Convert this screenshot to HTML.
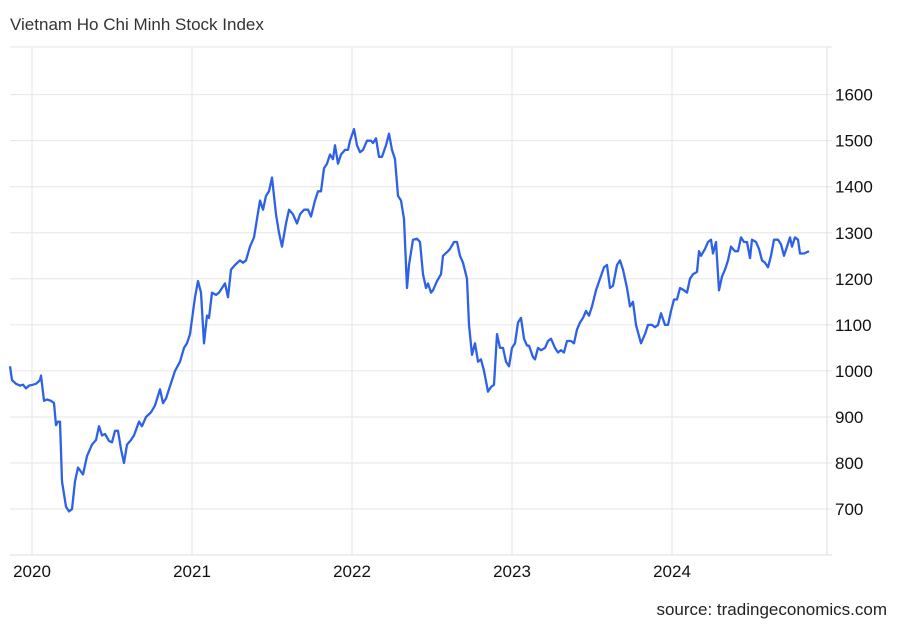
<!DOCTYPE html>
<html><head><meta charset="utf-8"><style>
html,body{margin:0;padding:0;background:#fff;width:900px;height:624px;overflow:hidden}
svg{display:block;font-family:"Liberation Sans",Arial,sans-serif}
</style></head><body>
<svg id="s" width="900" height="624" viewBox="0 0 900 624">
<text x="10" y="30" font-size="17" fill="#333">Vietnam Ho Chi Minh Stock Index</text>
<g id="grid" stroke="#e6e6e6" stroke-width="1"></g>
<line x1="827" y1="47" x2="827" y2="555" stroke="#ddd"/>
<line x1="10" y1="555" x2="832" y2="555" stroke="#ddd"/>
<g id="ylab" font-size="17" fill="#111"></g>
<g font-size="17" fill="#111" text-anchor="middle">
<text x="32" y="577">2020</text><text x="192" y="577">2021</text><text x="352" y="577">2022</text><text x="512" y="577">2023</text><text x="672" y="577">2024</text>
</g>
<text x="887" y="615" font-size="17" fill="#222" text-anchor="end">source: tradingeconomics.com</text>
<path id="ln" fill="none" stroke="#2e62e6" stroke-width="2.3" stroke-linejoin="round"/>
</svg>
<script>
var Y=function(v){return 94.6+(1600-v)*0.4605;};
var g=document.getElementById('grid'),yl=document.getElementById('ylab'),ns='http://www.w3.org/2000/svg';
function L(x1,y1,x2,y2){var l=document.createElementNS(ns,'line');l.setAttribute('x1',x1);l.setAttribute('y1',y1);l.setAttribute('x2',x2);l.setAttribute('y2',y2);g.appendChild(l);}
L(10,47,832,47);
for(var v=700;v<=1600;v+=100){var y=Y(v);L(10,y,832,y);var t=document.createElementNS(ns,'text');t.setAttribute('x',835);t.setAttribute('y',y+6);t.textContent=v;yl.appendChild(t);}
[32,192,352,512,672].forEach(function(x){L(x,47,x,555);});
var d=[[10,1010],[12,980],[16,972],[20,968],[23,970],[26,962],[29,968],[33,970],[36,972],[40,980],[41,990],[44,935],[47,938],[51,935],[54,930],[56,882],[58,890],[60,890],[62,760],[66,705],[69,695],[72,700],[75,760],[78,790],[83,775],[87,815],[92,840],[96,850],[99,880],[102,860],[105,863],[109,848],[112,845],[115,870],[118,870],[121,830],[124,800],[127,840],[131,850],[134,860],[139,890],[142,880],[146,900],[151,910],[155,925],[160,960],[163,930],[166,940],[172,980],[175,1000],[180,1020],[184,1050],[187,1060],[190,1080],[195,1160],[198,1195],[201,1170],[204,1060],[207,1120],[209,1115],[212,1170],[216,1165],[219,1170],[225,1190],[228,1160],[231,1220],[235,1230],[240,1240],[243,1235],[246,1240],[250,1270],[254,1290],[257,1330],[260,1370],[263,1350],[266,1380],[269,1390],[272,1420],[276,1340],[279,1300],[282,1270],[286,1320],[289,1350],[293,1340],[297,1320],[300,1340],[304,1350],[308,1350],[311,1335],[315,1370],[318,1390],[321,1390],[324,1440],[327,1450],[330,1470],[333,1460],[335,1490],[338,1450],[341,1470],[345,1480],[348,1480],[350,1500],[354,1525],[357,1490],[360,1475],[363,1480],[367,1500],[371,1500],[373,1495],[376,1505],[379,1465],[382,1465],[386,1490],[389,1515],[392,1480],[395,1460],[398,1380],[401,1370],[404,1330],[407,1180],[409,1230],[413,1285],[417,1287],[420,1280],[423,1210],[426,1180],[428,1190],[431,1170],[433,1175],[437,1195],[441,1210],[443,1250],[448,1260],[450,1265],[454,1280],[457,1280],[460,1250],[463,1235],[467,1200],[469,1100],[472,1035],[475,1060],[478,1020],[481,1025],[484,1000],[488,955],[491,965],[494,970],[497,1080],[500,1050],[503,1050],[506,1020],[509,1010],[512,1050],[515,1060],[518,1105],[521,1115],[524,1070],[527,1055],[529,1055],[533,1030],[535,1025],[538,1050],[541,1045],[545,1050],[548,1065],[551,1070],[555,1050],[558,1040],[561,1045],[564,1040],[567,1065],[571,1065],[574,1060],[577,1090],[580,1105],[583,1115],[586,1130],[589,1120],[592,1140],[596,1175],[600,1200],[604,1225],[607,1230],[610,1180],[613,1185],[617,1230],[620,1240],[623,1220],[627,1180],[630,1140],[633,1150],[636,1100],[641,1060],[645,1080],[648,1100],[652,1100],[655,1095],[658,1100],[661,1125],[665,1100],[668,1100],[671,1130],[674,1155],[677,1155],[680,1180],[684,1175],[687,1170],[690,1200],[693,1210],[697,1215],[699,1260],[701,1250],[705,1265],[708,1280],[711,1285],[713,1255],[716,1280],[719,1175],[722,1205],[725,1220],[728,1240],[731,1270],[735,1260],[738,1260],[741,1290],[744,1280],[747,1280],[750,1245],[752,1285],[756,1280],[759,1265],[762,1240],[765,1235],[768,1225],[771,1250],[774,1285],[778,1285],[781,1275],[784,1250],[787,1270],[790,1290],[792,1270],[795,1290],[798,1285],[800,1255],[804,1255],[809,1260]];
document.getElementById('ln').setAttribute('d',d.map(function(p,i){return (i?'L':'M')+p[0]+' '+Y(p[1]).toFixed(1);}).join(''));
</script>
</body></html>
